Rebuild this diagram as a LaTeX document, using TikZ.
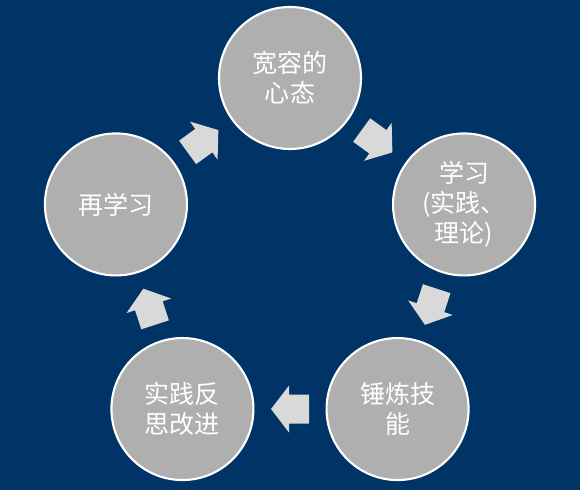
\documentclass[tikz,border=0pt]{standalone}
\usepackage{fontspec}
\newfontfamily\cjkfont{Noto Sans CJK SC}
\usepackage{xcolor}
\definecolor{cyclebg}{RGB}{0,51,102}
\definecolor{cyclegray}{RGB}{175,175,175}
\definecolor{cyclearrow}{RGB}{217,217,217}
\usepackage{tikz}

\begin{document}
\begin{tikzpicture}[
  stage/.style={circle, fill=cyclegray, draw=white, line width=1.5pt, minimum size=3.55cm, inner sep=0pt, align=center, text=white, font=\cjkfont\fontsize{17.8}{21.3}\selectfont},
  flowarrow/.pic={\fill[cyclearrow] (-0.475,-0.3625) -- (0.025,-0.3625) -- (0.025,-0.5875) -- (0.475,0) -- (0.025,0.5875) -- (0.025,0.3625) -- (-0.475,0.3625) -- cycle;}]
  \fill[cyclebg] (-7.25,-5.725) rectangle (7.25,6.525);
  \node[stage] (s1) at (90:4.575) {宽容的\\心态};
  \node[stage] (s2) at (18:4.575) {学习\\(实践、\\理论)};
  \node[stage] (s3) at (-54:4.575) {锤炼技\\能};
  \node[stage] (s4) at (-126:4.575) {实践反\\思改进};
  \node[stage] (s5) at (162:4.575) {再学习};
  \foreach \i/\j in {1/2,2/3,3/4,4/5,5/1} {
    \path (s\i) -- pic[sloped, allow upside down] {flowarrow} (s\j);
  }
\end{tikzpicture}
\end{document}
